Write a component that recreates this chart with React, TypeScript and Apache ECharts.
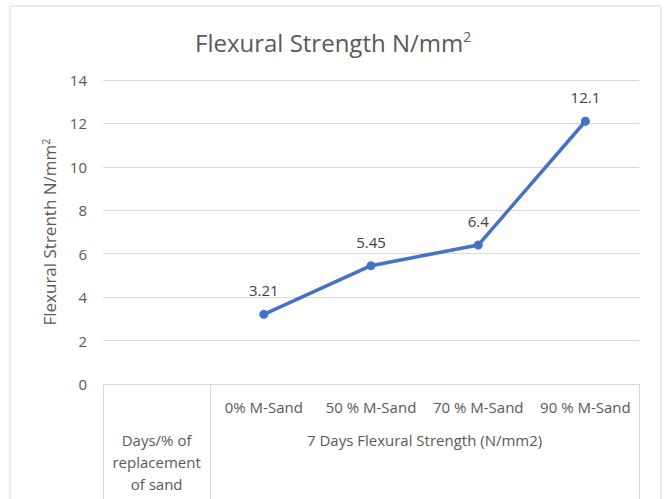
import React, { useEffect, useRef } from "react";
import * as echarts from "echarts";

const categories = ["", "0% M-Sand", "50 % M-Sand", "70 % M-Sand", "90 % M-Sand"];
const strengthValues: (number | null)[] = [null, 3.21, 5.45, 6.4, 12.1];
const yMin = 0;
const yMax = 14;
const yInterval = 2;
const groups = [
  { text: "Days/% of\nreplacement\nof sand", from: 0, to: 1 },
  { text: "7 Days Flexural Strength (N/mm2)", from: 1, to: 5 },
];

const FONT = "'Open Sans', 'Noto Sans', sans-serif";
const GREY = "#595959";
const GRID = "#d9d9d9";

export default function App() {
  const ref = useRef<HTMLDivElement>(null);
  useEffect(() => {
    if (!ref.current) return;
    const chart = echarts.init(ref.current, null, { renderer: "svg" });
    const groupCenters = groups.map((g) => ({ at: (g.from + g.to) / 2, text: g.text }));
    chart.setOption({
      animation: false,
      textStyle: { fontFamily: FONT },
      graphic: [
        {
          type: "rect",
          shape: { x: 10, y: 6, width: 651, height: 500 },
          style: { fill: "none", stroke: GRID, lineWidth: 1 },
          silent: true,
        },
      ],
      title: {
        text: "Flexural Strength N/mm{sup|2}",
        left: 190,
        top: 24,
        textStyle: {
          fontFamily: FONT,
          fontSize: 24,
          fontWeight: "normal",
          color: GREY,
          rich: {
            sup: { fontSize: 14, color: GREY, fontFamily: FONT, padding: [0, 0, 12, 0] },
          },
        },
      },
      grid: { left: 103, right: 26, top: 80, bottom: 115, containLabel: false },
      xAxis: [
        {
          type: "category",
          data: categories,
          boundaryGap: true,
          axisLine: { show: true, lineStyle: { color: GRID, width: 1 } },
          axisTick: {
            show: true,
            length: 120,
            interval: (index: number) => index <= 1,
            lineStyle: { color: GRID, width: 1 },
          },
          axisLabel: {
            interval: 0,
            margin: 12,
            color: GREY,
            fontSize: 15,
            lineHeight: 22,
            fontFamily: FONT,
          },
          splitLine: { show: false },
        },
        {
          type: "value",
          position: "bottom",
          min: 0,
          max: categories.length,
          interval: 0.5,
          axisLine: { show: false },
          axisTick: { show: false },
          splitLine: { show: false },
          axisLabel: {
            margin: 45,
            color: GREY,
            fontSize: 15,
            lineHeight: 22,
            fontFamily: FONT,
            showMinLabel: true,
            showMaxLabel: true,
            formatter: (v: number) => {
              const g = groupCenters.find((c) => Math.abs(c.at - v) < 1e-6);
              return g ? g.text : "";
            },
          },
        },
      ],
      yAxis: {
        type: "value",
        min: yMin,
        max: yMax,
        interval: yInterval,
        name: "Flexural Strenth N/mm{sup|2}",
        nameLocation: "middle",
        nameGap: 44,
        nameRotate: 90,
        nameTextStyle: {
          color: GREY,
          fontSize: 17,
          fontFamily: FONT,
          rich: {
            sup: { fontSize: 11, color: GREY, fontFamily: FONT, padding: [0, 0, 8, 0] },
          },
        },
        axisLine: { show: false },
        axisTick: { show: false },
        axisLabel: { color: GREY, fontSize: 15, margin: 16, fontFamily: FONT },
        splitLine: { show: true, lineStyle: { color: GRID, width: 1 } },
      },
      series: [
        {
          type: "line",
          xAxisIndex: 0,
          yAxisIndex: 0,
          data: strengthValues,
          connectNulls: false,
          symbol: "circle",
          symbolSize: 9,
          lineStyle: { color: "#4472C4", width: 3.5 },
          itemStyle: { color: "#4472C4" },
          label: {
            show: true,
            position: "top",
            distance: 12,
            color: "#404040",
            fontSize: 15,
            fontFamily: FONT,
          },
        },
      ],
    });
    return () => chart.dispose();
  }, []);
  return (
    <div
      ref={ref}
      style={{ position: "fixed", left: 0, top: 0, width: 665, height: 499, background: "#fff" }}
    />
  );
}
